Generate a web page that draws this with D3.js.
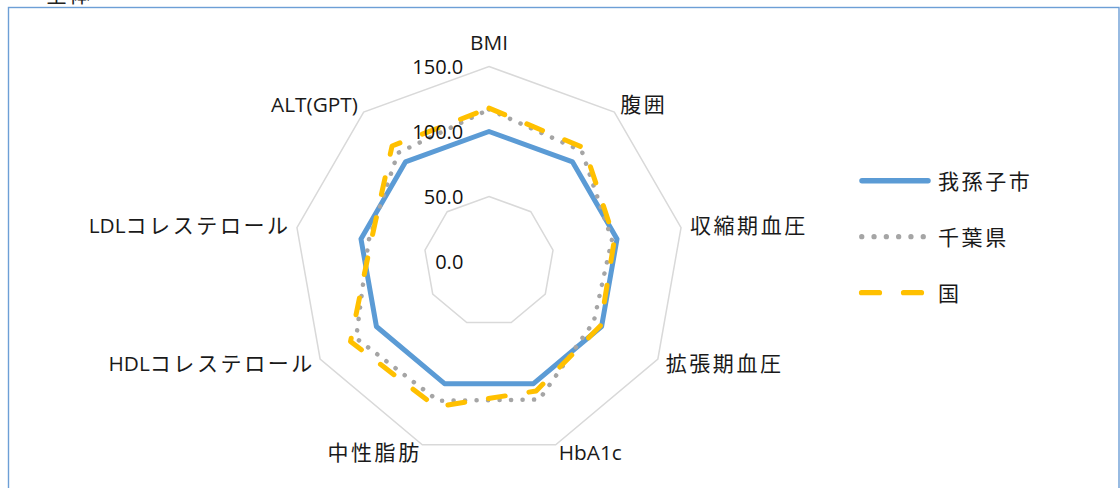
<!DOCTYPE html>
<html>
<head>
<meta charset="utf-8">
<script src="https://cdn.jsdelivr.net/npm/d3@7"></script>
<style>
  html, body { margin: 0; padding: 0; background: #ffffff; }
  svg { display: block; }
</style>
</head>
<body>
<svg id="chart" width="1120" height="488"></svg>
<script>
// Radar chart data: standardized ratios per health indicator
const categories = ["BMI", "腹囲", "収縮期血圧", "拡張期血圧", "HbA1c", "中性脂肪", "HDLコレステロール", "LDLコレステロール", "ALT(GPT)"];
const seriesNames = ["我孫子市", "千葉県", "国"];
const abikoValues = [100, 100, 100, 100, 100, 100, 100, 100, 100];
const chibaValues = [117, 111, 96, 93, 113, 114, 118, 94, 109];
const nationalValues = [118, 114, 98, 99, 106, 119, 123, 92, 116];
const tickValues = [0, 50, 100, 150];
const tickLabels = ["0.0", "50.0", "100.0", "150.0"];
const chartTitle = "全体";

const svg = d3.select("#chart");
const W = 1120, H = 488;
const cx = 489, cy = 261.5;
const rScale = d3.scaleLinear().domain([0, 150]).range([0, 195]);
const step = 2 * Math.PI / categories.length;

const latinFont = "'Open Sans', 'Liberation Sans', sans-serif";
const cjkFont = "'Noto Sans CJK JP', 'Noto Sans CJK SC', sans-serif";
const cjkSize = 21, cjkSpacing = 2.6, latinSize = 20.8, tickSize = 20;
const cjkRe = /[\u3000-\u30ff\u3400-\u9fff\uff00-\uffef]/;

// Writes mixed Latin / Japanese text as separate tspans so each script gets its own font
function richText(sel, str) {
  const runs = [];
  for (const ch of str) {
    const isCjk = cjkRe.test(ch);
    if (runs.length && runs[runs.length - 1].cjk === isCjk) runs[runs.length - 1].t += ch;
    else runs.push({ t: ch, cjk: isCjk });
  }
  runs.forEach(r => {
    sel.append("tspan")
      .attr("font-family", r.cjk ? cjkFont : latinFont)
      .attr("font-size", r.cjk ? cjkSize : latinSize)
      .attr("letter-spacing", r.cjk ? cjkSpacing : 0)
      .text(r.t);
  });
  return runs.length && runs[runs.length - 1].cjk;
}

// Chart frame and (clipped) title
svg.append("rect")
  .attr("x", 8.5).attr("y", 7.5)
  .attr("width", 1110.5).attr("height", H + 20)
  .attr("fill", "#ffffff")
  .attr("stroke", "#6d9fd6")
  .attr("stroke-width", 1.4);

svg.append("text")
  .attr("x", 46).attr("y", 1.5)
  .attr("font-family", cjkFont)
  .attr("font-size", 21)
  .attr("letter-spacing", 2)
  .attr("fill", "#222")
  .text(chartTitle);

const g = svg.append("g").attr("transform", `translate(${cx},${cy})`);

const radial = d3.lineRadial()
  .angle((d, i) => i * step)
  .radius(d => rScale(d))
  .curve(d3.curveLinearClosed);

// Grid polygons
g.selectAll("path.grid")
  .data(tickValues.filter(v => v > 0))
  .join("path")
  .attr("class", "grid")
  .attr("d", v => radial(categories.map(() => v)))
  .attr("fill", "none")
  .attr("stroke", "#d9d9d9")
  .attr("stroke-width", 1.5);

// Category labels
const labelR = rScale(150) + 9;
categories.forEach((c, i) => {
  const a = i * step;
  const sx = Math.sin(a), cy0 = -Math.cos(a);
  let x = labelR * sx, y = labelR * cy0;
  let anchor = "middle";
  if (sx > 0.1) anchor = "start";
  else if (sx < -0.1) anchor = "end";
  y += (Math.cos(a) > 0.95) ? -7.5 : 7;
  const t = g.append("text")
    .attr("text-anchor", anchor)
    .attr("fill", "#1a1a1a");
  const endsCjk = richText(t, c);
  if (anchor === "end" && endsCjk) x += cjkSpacing;
  t.attr("x", x).attr("y", y);
});

// Series
const seriesStyles = [
  { color: "#5b9bd5", width: 5, dash: null },
  { color: "#a5a5a5", width: 4.5, dash: "0.1,11.4" },
  { color: "#ffc000", width: 5, dash: "17,24" }
];
const seriesData = [abikoValues, chibaValues, nationalValues];

seriesData.forEach((vals, k) => {
  const s = seriesStyles[k];
  g.append("path")
    .attr("d", radial(vals))
    .attr("fill", "none")
    .attr("stroke", s.color)
    .attr("stroke-width", s.width)
    .attr("stroke-linejoin", "round")
    .attr("stroke-linecap", "round")
    .attr("stroke-dasharray", s.dash);
});

// Value axis labels, drawn above the series lines
g.selectAll("text.tick")
  .data(tickValues)
  .join("text")
  .attr("class", "tick")
  .attr("x", -25.7)
  .attr("y", v => -rScale(v) + 7.7)
  .attr("text-anchor", "end")
  .attr("font-family", latinFont)
  .attr("font-size", tickSize)
  .attr("fill", "#111")
  .text((v, i) => tickLabels[i]);

// Legend
const legendY = [180.7, 236.7, 292.7];
const legendLines = [[862, 928], [861.7, 923.5], [861.5, 921.5]];
const legendDash = [null, "0.1,12.2", "18,24"];
seriesNames.forEach((name, k) => {
  const s = seriesStyles[k];
  svg.append("line")
    .attr("x1", legendLines[k][0]).attr("x2", legendLines[k][1])
    .attr("y1", legendY[k]).attr("y2", legendY[k])
    .attr("stroke", s.color)
    .attr("stroke-width", k === 0 ? 5.5 : 5.2)
    .attr("stroke-linecap", "round")
    .attr("stroke-dasharray", legendDash[k]);
  const t = svg.append("text")
    .attr("x", 938).attr("y", legendY[k] + 7.8)
    .attr("fill", "#1a1a1a");
  richText(t, name);
});
</script>
</body>
</html>
